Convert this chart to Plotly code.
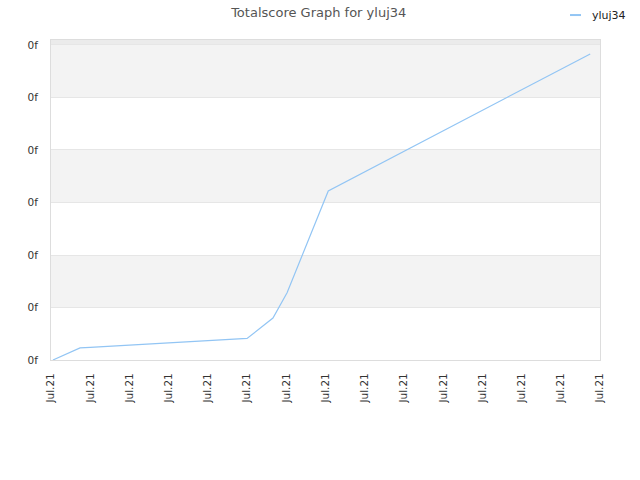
import plotly.graph_objects as go

# data (x in tick-index units, y in gridline units)
x_pos = [0.05, 0.74, 1.0, 2.0, 3.0, 4.0, 5.0, 5.66, 6.02, 7.07, 13.75]
score = [0.0, 0.23, 0.24, 0.28, 0.32, 0.37, 0.41, 0.80, 1.28, 3.22, 5.83]
tick_vals = list(range(15))
tick_text = ["Jul.21"] * 15
y_vals = list(range(7))
y_text = ["0f"] * 7
series_name = "yluj34"
line_color = "#92c5f4"

fig = go.Figure()
fig.add_trace(go.Scatter(x=x_pos, y=score, mode="lines", name=series_name,
                         showlegend=False, line=dict(color=line_color, width=1.2)))

shapes = []
for lo in [1, 3, 5]:
    shapes.append(dict(type="rect", xref="paper", yref="y", x0=0, x1=1, y0=lo, y1=lo + 1,
                       fillcolor="#f3f3f3", line=dict(width=0), layer="below"))
shapes.append(dict(type="rect", xref="paper", yref="y", x0=0, x1=1, y0=6, y1=6.095,
                   fillcolor="#ebebeb", line=dict(width=0), layer="below"))
# legend sample line (manual legend)
shapes.append(dict(type="line", xref="paper", yref="paper", x0=0.9454, x1=0.9654,
                   y0=1.078, y1=1.078, line=dict(color=line_color, width=2)))

fig.update_layout(
    width=640, height=480,
    margin=dict(l=51, r=40, t=40, b=120),
    paper_bgcolor="white", plot_bgcolor="white",
    font=dict(family="DejaVu Sans", size=10.5, color="#333"),
    title=dict(text="Totalscore Graph for yluj34", x=0.498, xanchor="center",
               y=0.975, yanchor="middle", font=dict(size=13, color="#555")),
    showlegend=False,
    shapes=shapes,
    annotations=[dict(text=series_name, xref="paper", yref="paper", x=0.9818, y=1.078,
                      xanchor="left", yanchor="middle", showarrow=False,
                      font=dict(size=11, color="#222"))],
    xaxis=dict(range=[0, 14], tickvals=tick_vals, ticktext=tick_text, tickangle=-90,
               showgrid=False, showline=True, mirror=True, linecolor="#dddddd",
               zeroline=False, ticks="", automargin=False, ticklabelstandoff=8,
               tickfont=dict(size=10.5, color="#333")),
    yaxis=dict(range=[0, 6.095], tickvals=y_vals, ticktext=y_text,
               showgrid=True, gridcolor="#e6e6e6", showline=True, mirror=True,
               linecolor="#dddddd", zeroline=False, ticks="", automargin=False,
               ticklabelstandoff=10, tickfont=dict(size=10.5, color="#333")),
)

fig.write_html("out.html", config={"displayModeBar": False},
               post_script="document.body.style.margin='0';")
